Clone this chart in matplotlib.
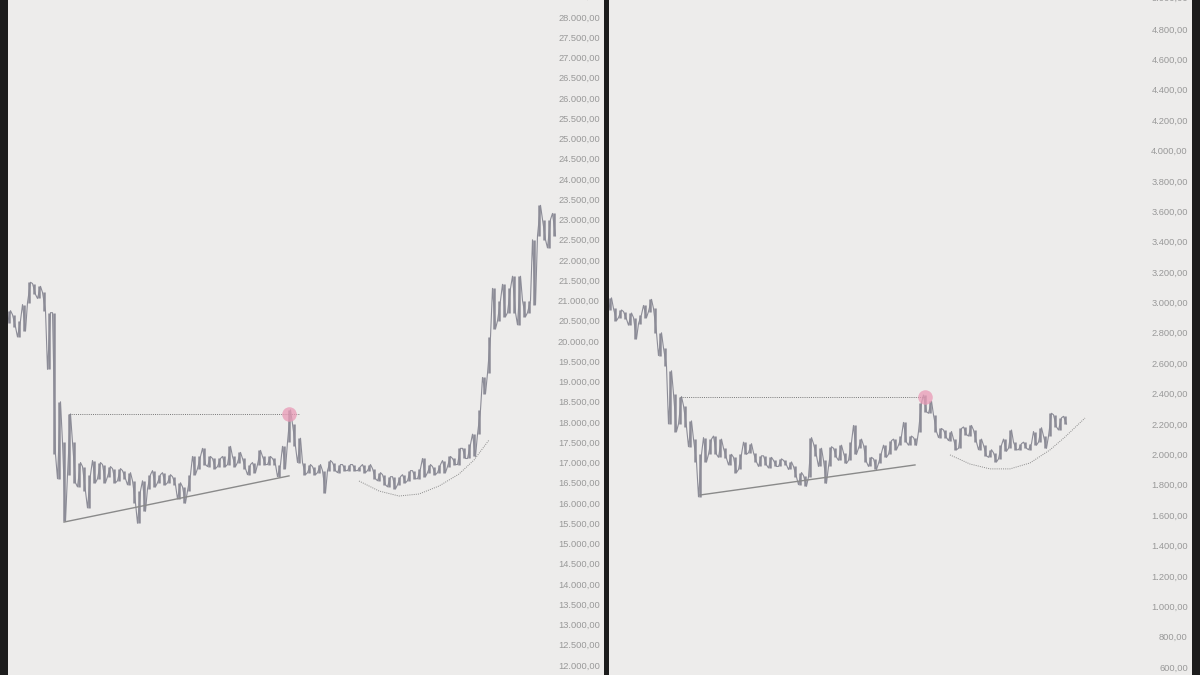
import matplotlib
matplotlib.use("Agg")
import matplotlib.pyplot as plt
from matplotlib.ticker import FuncFormatter, MultipleLocator

plt.rcParams["font.family"] = ["Liberation Sans", "DejaVu Sans"]

# left chart: (low, high) per bar
left_low = [20450, 20350, 20100, 20250, 20950, 21150, 21050, 20750, 19300, 17200,
            16600, 15550, 16700, 16500, 16400, 16300, 15880, 16500, 16600, 16500,
            16650, 16500, 16550, 16600, 16450, 16000, 15500, 15800, 16350, 16400,
            16500, 16450, 16500, 16450, 16100, 16000, 16300, 16700, 16850, 16950,
            16900, 16850, 16900, 16900, 16950, 16900, 17000, 16850, 16700, 16750,
            16950, 16950, 16950, 16950, 16650, 16850, 17500, 17400, 17000, 16700,
            16750, 16700, 16750, 16250, 16800, 16800, 16750, 16800, 16800, 16800,
            16800, 16750, 16800, 16600, 16550, 16450, 16400, 16350, 16450, 16500,
            16550, 16600, 16600, 16650, 16750, 16700, 16750, 16750, 16900, 16950,
            16950, 17100, 17100, 17150, 17700, 18700, 19200, 20300, 20500, 20600,
            20700, 20700, 20400, 20600, 20700, 20900, 22600, 22500, 22300, 22600]
left_high = [20750, 20650, 20500, 20900, 21450, 21420, 21350, 21200, 20700, 20700,
             18500, 17500, 18200, 17500, 17000, 16900, 16700, 17050, 17000, 16950,
             16900, 16850, 16850, 16800, 16750, 16550, 16300, 16550, 16700, 16800,
             16700, 16750, 16700, 16650, 16500, 16400, 16700, 17150, 17150, 17350,
             17150, 17100, 17100, 17150, 17400, 17150, 17250, 17100, 16950, 17000,
             17300, 17150, 17150, 17100, 16950, 17400, 18300, 17950, 17600, 17000,
             16950, 16900, 16950, 16800, 17050, 17000, 16950, 16950, 16950, 16950,
             16900, 16950, 16950, 16850, 16750, 16700, 16650, 16650, 16650, 16700,
             16800, 16800, 16850, 17100, 16950, 16900, 16950, 17050, 17150, 17100,
             17350, 17350, 17450, 17700, 18300, 19100, 20100, 21300, 21000, 21400,
             21300, 21600, 21600, 21000, 21000, 22500, 23350, 23000, 23000, 23150]
left_ticks = list(range(12000, 28501, 500))
left_level = [12, 56, 58, 18200]          # from bar, peak bar, to bar, price
left_support = [(11, 15530), (56, 16670)]
left_curve = [(70, 16544), (74, 16297), (78, 16173), (82, 16223),
              (86, 16420), (90, 16716), (93, 17062), (96, 17556)]

# right chart: (low, high) per bar
right_low = [2950, 2880, 2900, 2890, 2850, 2760, 2860, 2900, 2940, 2800,
             2650, 2580, 2200, 2150, 2200, 2180, 2050, 1950, 1720, 1950,
             2000, 2000, 1980, 1975, 1930, 1880, 1900, 2000, 2010, 1950,
             1920, 1930, 1910, 1920, 1920, 1930, 1900, 1850, 1800, 1790,
             1850, 1990, 1920, 1810, 1920, 1980, 1960, 1940, 1960, 2000,
             2040, 1950, 1920, 1900, 1940, 1980, 2000, 2030, 2060, 2080,
             2060, 2060, 2150, 2280, 2270, 2150, 2110, 2110, 2090, 2030,
             2040, 2130, 2120, 2080, 2030, 1990, 1980, 1950, 1970, 2020,
             2040, 2030, 2030, 2040, 2030, 2060, 2080, 2040, 2120, 2180,
             2160, 2200]
right_high = [3030, 2960, 2950, 2940, 2930, 2900, 2920, 2980, 3020, 2960,
              2800, 2700, 2550, 2400, 2380, 2320, 2220, 2100, 2000, 2110,
              2100, 2120, 2100, 2040, 2000, 1980, 2000, 2080, 2070, 2010,
              1990, 1990, 1980, 1960, 1970, 1960, 1950, 1920, 1880, 1860,
              2110, 2070, 2040, 1960, 2050, 2040, 2060, 2010, 2080, 2190,
              2100, 2060, 1980, 1970, 2010, 2060, 2090, 2100, 2120, 2210,
              2120, 2110, 2340, 2390, 2350, 2260, 2170, 2160, 2150, 2100,
              2170, 2180, 2190, 2160, 2100, 2060, 2030, 2010, 2060, 2100,
              2160, 2080, 2070, 2080, 2070, 2150, 2175, 2120, 2270, 2260,
              2240, 2250]
right_ticks = list(range(600, 5001, 200))
right_level = [14, 63, 63, 2377]
right_support = [(18, 1732), (61, 1930)]
right_curve = [(68, 1996), (72, 1936), (76, 1904), (80, 1904),
               (84, 1943), (88, 2029), (91, 2114), (95, 2239)]

BG = "#edeceb"
BAR = "#8c8c97"
EDGE = "#1c1c1c"
LABEL = "#999999"
FS = 6.7


def br_fmt(v, pos=None):
    s = f"{v:,.2f}"
    return s.replace(",", "X").replace(".", ",").replace("X", ".")


def draw_panel(ax, lows, highs, ticks, step, level, support, curve, xlim, ylim):
    ax.set_facecolor(BG)
    xs = range(len(lows))
    ax.vlines(xs, lows, highs, color=BAR, lw=1.8)
    # zigzag through each bar's range so the band reads like dense bars
    zx, zy = [], []
    for i, (lo, hi) in enumerate(zip(lows, highs)):
        a, b = (lo, hi) if i % 2 == 0 else (hi, lo)
        zx += [i - 0.3, i + 0.3]
        zy += [a, b]
    ax.plot(zx, zy, color=BAR, lw=0.8)

    start, peak, end, price = level
    ax.plot([start, end], [price, price], color="#777777", lw=0.7, ls=(0, (1, 1.2)))
    ax.scatter([peak], [price], s=110, color="#e99ab6", alpha=0.75, zorder=5, lw=0)

    ax.plot([p[0] for p in support], [p[1] for p in support], color="#8a8a8a", lw=1.0)
    ax.plot([p[0] for p in curve], [p[1] for p in curve], color="#8a8a8a", lw=0.7,
            ls=(0, (1, 1.2)))

    ax.set_xlim(*xlim)
    ax.set_ylim(*ylim)
    ax.yaxis.tick_right()
    ax.yaxis.set_major_locator(MultipleLocator(step))
    ax.yaxis.set_major_formatter(FuncFormatter(br_fmt))
    ax.tick_params(axis="y", length=0, pad=-3, labelsize=FS, labelcolor=LABEL)
    for lbl in ax.get_yticklabels():
        lbl.set_horizontalalignment("right")
    ax.set_xticks([])
    for sp in ax.spines.values():
        sp.set_visible(False)
    # label cut off at the top edge
    ax.text(0.993, ticks[-1], br_fmt(ticks[-1]), transform=ax.get_yaxis_transform(),
            ha="right", va="center", fontsize=FS, color=LABEL, clip_on=False)


fig = plt.figure(figsize=(12, 6.75), dpi=100)
fig.patch.set_facecolor(EDGE)

W, H = 1200, 675
ax1 = fig.add_axes([8 / W, 0, (604 - 8) / W, 1])
ax2 = fig.add_axes([609 / W, 0, (1192 - 609) / W, 1])

draw_panel(ax1, left_low, left_high, left_ticks, 500, left_level, left_support,
           left_curve, (-0.2, 119.0), (11754, 28420))
draw_panel(ax2, right_low, right_high, right_ticks, 200, right_level, right_support,
           right_curve, (-0.2, 116.4), (547, 4991))

fig.savefig("out.png", dpi=100, facecolor=EDGE)
